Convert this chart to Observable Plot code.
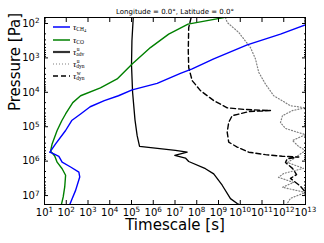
<!DOCTYPE html>
<html>
<head>
<meta charset="utf-8">
<script src="https://cdn.jsdelivr.net/npm/d3@7"></script>
<script src="https://cdn.jsdelivr.net/npm/@observablehq/plot@0.6"></script>
<style>
  body { margin: 0; background: #fff; }
  #wrap { position: relative; width: 324px; height: 243px; font-family: "DejaVu Sans", sans-serif; }
  #legend { position: absolute; left: 0; top: 0; width: 0; height: 0; }
  .row { position: absolute; left: 53px; height: 10px; display: flex; align-items: center; white-space: nowrap; }
  .row svg { display: block; }
  .lab { margin-left: 3px; font-family: "Liberation Serif", "DejaVu Serif", serif; font-size: 9px; position: relative; line-height: 9px; }
  .tau { font-style: italic; }
  .scr { display: inline-block; position: relative; vertical-align: baseline; font-size: 5.5px; line-height: 5.5px; }
  .sub { position: relative; top: 1.5px; }
  .sup { position: absolute; left: 0.5px; top: -3.5px; }
</style>
</head>
<body>
<div id="wrap"><div id="legend"></div></div>
<script>
// ---- data (log10 of pressure [Pa] and log10 of timescale [s]) ----
const ch4LogP = [2.04, 2.31, 2.62, 3.03, 3.32, 3.45, 3.74, 3.93, 4.10, 4.24, 4.42, 4.63, 4.82, 5.11, 5.50, 5.71, 5.74, 5.79, 5.86, 6.03, 6.17, 6.32, 6.46, 6.85, 7.09, 7.28];
const ch4LogT = [13.0, 11.85, 10.32, 8.78, 7.79, 7.25, 6.18, 5.03, 4.4, 3.75, 3.1, 2.66, 2.25, 1.97, 1.51, 1.28, 1.24, 1.43, 1.66, 1.81, 2.20, 2.58, 2.62, 2.43, 2.27, 2.15];

const coLogP = [1.83, 2.02, 2.31, 2.70, 3.18, 3.61, 3.87, 4.10, 4.30, 4.63, 4.82, 5.11, 5.50, 5.71, 5.85, 6.03, 6.22, 6.41, 6.75, 7.04, 7.28];
const coLogT = [9.24, 7.6, 6.71, 5.87, 5.03, 4.34, 3.57, 2.66, 2.3, 1.97, 1.8, 1.58, 1.35, 1.28, 1.47, 1.58, 1.81, 1.97, 1.93, 1.86, 1.77];

const advLogP = [1.83, 2.5, 3.2, 4.0, 4.8, 5.26, 5.57, 5.69, 5.74, 5.83, 5.91, 6.01, 6.22, 6.37, 6.70, 7.09, 7.23, 7.28];
const advLogT = [5.08, 5.02, 5.0, 5.05, 5.16, 5.26, 5.37, 7.02, 7.56, 6.99, 7.48, 7.63, 8.40, 8.78, 9.17, 9.55, 9.86, 10.0];

const dynULogP = [1.83, 1.97, 2.26, 2.70, 3.03, 3.42, 3.76, 4.10, 4.39, 4.45, 4.53, 4.68, 4.88, 5.05, 5.17, 5.23, 5.40, 5.57, 5.69, 5.89, 6.04, 6.21, 6.36, 6.47, 6.62, 6.76, 6.91, 7.08, 7.26];
const dynULogT = [9.32, 9.40, 9.93, 10.47, 10.70, 10.85, 11.16, 11.54, 12.31, 13.0, 12.40, 11.94, 11.85, 12.08, 12.68, 13.0, 12.40, 12.68, 13.0, 12.54, 12.17, 12.91, 11.99, 11.76, 12.45, 11.94, 13.0, 12.31, 12.13];

const dynWLogP = [1.83, 2.12, 2.79, 3.28, 3.66, 3.95, 4.24, 4.45, 4.50, 4.53, 4.56, 4.68, 4.87, 5.16, 5.45, 5.59, 5.74, 5.81, 5.86, 5.88, 5.93, 6.04, 6.21, 6.39, 6.50, 6.73, 6.91];
const dynWLogT = [7.74, 7.63, 7.61, 7.63, 7.79, 8.17, 8.78, 9.40, 10.24, 11.39, 10.39, 9.63, 9.47, 9.40, 9.47, 9.86, 10.39, 11.16, 11.93, 12.69, 12.16, 12.08, 12.40, 12.59, 12.31, 12.77, 13.0];

const xTickExps = [1, 2, 3, 4, 5, 6, 7, 8, 9, 10, 11, 12, 13];
const yTickExps = [2, 3, 4, 5, 6, 7];
const titleText = "Longitude = 0.0°, Latitude = 0.0°";
const xLabelText = "Timescale [s]";
const yLabelText = "Pressure [Pa]";
const legendSups = ["", "", "u", "u", "w"];
const legendSubs = ["CH<span style='position:relative;top:1px;font-size:4.5px'>4</span>", "CO", "adv", "dyn", "dyn"];

// ---- build ----
const toRows = (lp, lt) => lp.map((p, i) => ({p: 10 ** p, t: 10 ** lt[i]}));
const xTicks = xTickExps.map(e => 10 ** e);
const yTicks = yTickExps.map(e => 10 ** e);
const yDomain = [67, 1.82e7];
const yMinor = [];
for (let k = 1; k <= 7; k++) for (let m = 2; m <= 9; m++) {
  const v = m * 10 ** k;
  if (v >= yDomain[0] && v <= yDomain[1]) yMinor.push(v);
}
const expFmt = d => "10^" + Math.round(Math.log10(d));
const blank = () => "";

const chart = Plot.plot({
  width: 324, height: 243,
  marginTop: 17, marginLeft: 44, marginRight: 19, marginBottom: 39,
  style: {fontFamily: "DejaVu Sans, sans-serif", background: "#fff", color: "#000", overflow: "visible"},
  x: {type: "log", domain: [10, 1e13]},
  y: {type: "log", domain: yDomain, reverse: true},
  marks: [
    Plot.line(toRows(dynULogP, dynULogT), {x: "t", y: "p", stroke: "#808080", strokeWidth: 1.2, strokeDasharray: "1,2", clip: true}),
    Plot.line(toRows(dynWLogP, dynWLogT), {x: "t", y: "p", stroke: "#000", strokeWidth: 1.4, strokeDasharray: "5,3", clip: true}),
    Plot.line(toRows(advLogP, advLogT), {x: "t", y: "p", stroke: "#000", strokeWidth: 1.3, clip: true}),
    Plot.line(toRows(coLogP, coLogT), {x: "t", y: "p", stroke: "#008000", strokeWidth: 1.4, clip: true}),
    Plot.line(toRows(ch4LogP, ch4LogT), {x: "t", y: "p", stroke: "#0000ff", strokeWidth: 1.4, clip: true}),
    Plot.frame({stroke: "#000", strokeWidth: 1}),
    Plot.axisX(xTicks, {anchor: "bottom", tickSize: -4, tickFormat: blank, label: null}),
    Plot.axisX(xTicks, {anchor: "top", tickSize: -4, tickFormat: blank, label: null}),
    Plot.axisY(yTicks, {anchor: "left", tickSize: -4, tickFormat: blank, label: null}),
    Plot.axisY(yTicks, {anchor: "right", tickSize: -4, tickFormat: blank, label: null}),
    Plot.axisY(yMinor, {anchor: "left", tickSize: -2, tickFormat: blank, label: null}),
    Plot.axisY(yMinor, {anchor: "right", tickSize: -2, tickFormat: blank, label: null}),
    Plot.axisX(xTicks, {anchor: "bottom", tickSize: 0, tickPadding: 4, tickFormat: expFmt, label: null, fontSize: 10}),
    Plot.axisY(yTicks, {anchor: "left", tickSize: 0, tickPadding: 5, tickFormat: expFmt, label: null, fontSize: 10}),
    Plot.text([xLabelText], {text: d => d, frameAnchor: "bottom", lineAnchor: "middle", dy: 21, fontSize: 15}),
    Plot.text([yLabelText], {text: d => d, frameAnchor: "left", lineAnchor: "middle", rotate: -90, dx: -29, fontSize: 15}),
    Plot.text([titleText], {text: d => d, frameAnchor: "top", lineAnchor: "middle", dy: -6, fontSize: 7})
  ]
});

// superscript exponents in tick labels
d3.select(chart).selectAll("g[aria-label$='tick label'] text").each(function() {
  const s = this.textContent;
  const m = /^10\^(\d+)$/.exec(s);
  if (!m) return;
  const t = d3.select(this);
  t.text(null);
  t.append("tspan").text("10");
  t.append("tspan").attr("dy", "-0.45em").attr("font-size", "0.72em").text(m[1]);
});

document.getElementById("wrap").prepend(chart);

// legend (overlaid in the upper-left corner of the frame)
const legendStyles = [
  {stroke: "#0000ff", width: 1.5, dash: null},
  {stroke: "#008000", width: 1.5, dash: null},
  {stroke: "#333", width: 2.2, dash: null},
  {stroke: "#808080", width: 1.2, dash: "1,2"},
  {stroke: "#000", width: 1.5, dash: "5,3"}
];
const rowCenters = [27, 40, 52, 64, 76];
const legend = document.getElementById("legend");
legendStyles.forEach((st, i) => {
  const row = document.createElement("div");
  row.className = "row";
  row.style.top = (rowCenters[i] - 5) + "px";
  row.innerHTML =
    `<svg width="17" height="10"><line x1="0" x2="17" y1="5" y2="5" stroke="${st.stroke}" stroke-width="${st.width}" ${st.dash ? `stroke-dasharray="${st.dash}"` : ""}/></svg>` +
    `<span class="lab"><span class="tau">τ</span><span class="scr">${legendSups[i] ? `<span class="sup">${legendSups[i]}</span>` : ""}<span class="sub">${legendSubs[i]}</span></span></span>`;
  legend.appendChild(row);
});
</script>
</body>
</html>
